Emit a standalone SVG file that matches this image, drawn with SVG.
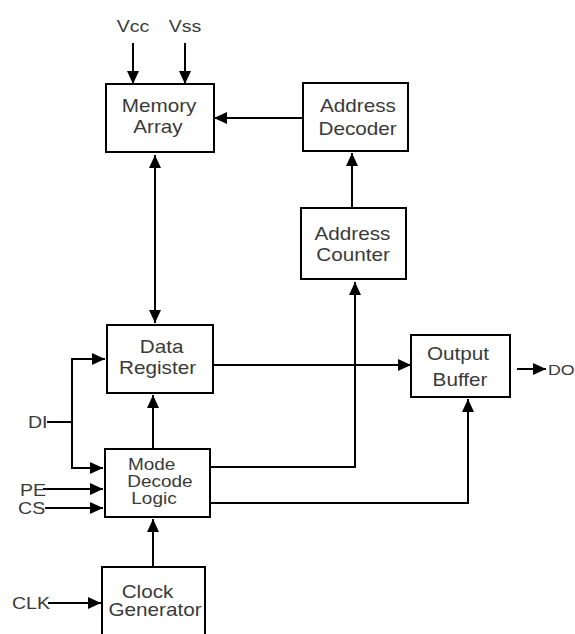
<svg xmlns="http://www.w3.org/2000/svg" width="575" height="634" viewBox="0 0 575 634">
<defs>
<marker id="ah" markerUnits="userSpaceOnUse" markerWidth="13" markerHeight="12" refX="13" refY="6" orient="auto">
<path d="M0,0 L13,6 L0,12 z" fill="#000"/>
</marker>
<style>
.box{fill:#fff;stroke:#000;stroke-width:2}
.ln{fill:none;stroke:#000;stroke-width:2}
.arr{marker-end:url(#ah)}
text{font-family:"Liberation Sans",Arial,sans-serif;fill:#3a3a3a;font-size:18px}
.c{text-anchor:middle}
.lbl{font-size:17px}
.sm{font-size:16.5px}
</style>
</defs>
<rect width="575" height="634" fill="#fff"/>
<g id="connectors">
<line class="ln arr" x1="133" y1="43" x2="133" y2="84"/>
<line class="ln arr" x1="185" y1="43" x2="185" y2="84"/>
<line class="ln arr" x1="303" y1="118" x2="214" y2="118"/>
<line class="ln arr" x1="352" y1="208" x2="352" y2="153"/>
<line class="ln arr" x1="155" y1="240" x2="155" y2="155"/>
<line class="ln arr" x1="155" y1="240" x2="155" y2="323"/>
<polyline class="ln" points="47,422 72,422"/>
<polyline class="ln arr" points="72,422 72,359 105,359"/>
<polyline class="ln arr" points="72,422 72,468 103,468"/>
<line class="ln arr" x1="43" y1="489" x2="103" y2="489"/>
<line class="ln arr" x1="45" y1="508" x2="103" y2="508"/>
<line class="ln arr" x1="153" y1="449" x2="153" y2="395"/>
<line class="ln arr" x1="213" y1="365" x2="411" y2="365"/>
<polyline class="ln arr" points="210,467 355,467 355,282"/>
<polyline class="ln arr" points="210,503 468,503 468,399"/>
<line class="ln arr" x1="517" y1="369" x2="546" y2="369"/>
<line class="ln arr" x1="48" y1="603" x2="101" y2="603"/>
<line class="ln arr" x1="153" y1="567" x2="153" y2="519"/>
</g>
<g id="memory-array">
<rect class="box" x="106" y="84" width="108" height="68"/>
<g transform="scale(1.15,1)"><text class="c" x="138.3" y="112">Memory</text><text class="c" x="137.4" y="133.5">Array</text></g>
</g>
<g id="address-decoder">
<rect class="box" x="303" y="83" width="105" height="68"/>
<g transform="scale(1.15,1)"><text class="c" x="311.3" y="112">Address</text><text class="c" x="310.9" y="135">Decoder</text></g>
</g>
<g id="address-counter">
<rect class="box" x="301" y="208" width="105" height="71"/>
<g transform="scale(1.15,1)"><text class="c" x="306.5" y="240">Address</text><text class="c" x="307" y="261.5">Counter</text></g>
</g>
<g id="data-register">
<rect class="box" x="107" y="325" width="106" height="68"/>
<g transform="scale(1.15,1)"><text class="c" x="140.6" y="353">Data</text><text class="c" x="137" y="374">Register</text></g>
</g>
<g id="mode-decode-logic">
<rect class="box" x="105" y="449" width="105" height="68"/>
<g transform="scale(1.15,1)"><text class="c sm" x="131.9" y="470">Mode</text><text class="c sm" x="139.1" y="487.5">Decode</text><text class="c sm" x="133.9" y="504.5">Logic</text></g>
</g>
<g id="output-buffer">
<rect class="box" x="411" y="335" width="99" height="62"/>
<g transform="scale(1.15,1)"><text class="c" x="398.3" y="360">Output</text><text class="c" x="400" y="386.5">Buffer</text></g>
</g>
<g id="clock-generator">
<rect class="box" x="102" y="567" width="103" height="80"/>
<g transform="scale(1.15,1)"><text class="c" x="128.3" y="598">Clock</text><text class="c" x="134.8" y="616.5">Generator</text></g>
</g>
<g id="labels" transform="scale(1.15,1)">
<text class="c lbl" x="115.7" y="32">Vcc</text>
<text class="c lbl" x="160.9" y="32">Vss</text>
<text class="lbl" x="24.3" y="428">DI</text>
<text class="lbl" x="17.4" y="496">PE</text>
<text class="lbl" x="15.7" y="514">CS</text>
<text class="lbl" x="10.4" y="609.5">CLK</text>
<text class="lbl" x="476.5" y="375" style="font-size:15.5px">DO</text>
</g>
</svg>
